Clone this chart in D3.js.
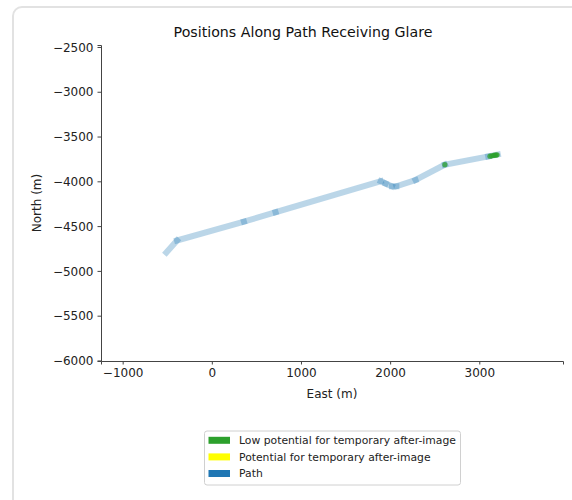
<!DOCTYPE html>
<html><head><meta charset="utf-8">
<script src="https://cdn.jsdelivr.net/npm/d3@7"></script>
<style>body{margin:0;background:#fff;font-family:"DejaVu Sans",sans-serif;}</style>
</head><body>
<svg id="c" width="572" height="500"></svg>
<script>
const pathEast = [-510, -390, 360, 715, 1895, 1950, 2020, 2070, 2285, 2614, 3100, 3208];
const pathNorth = [-4795, -4660, -4450, -4345, -4000, -4025, -4055, -4055, -3985, -3814, -3722, -3700];
const glareEast = [2614, 3120, 3140, 3160, 3175, 3188, 3200];
const glareNorth = [-3814, -3719, -3715, -3711, -3708, -3706, -3704];
const xTicks = [-1000, 0, 1000, 2000, 3000];
const yTicks = [-2500, -3000, -3500, -4000, -4500, -5000, -5500, -6000];
const legendLabels = ["Low potential for temporary after-image", "Potential for temporary after-image", "Path"];
const legendColors = ["#2ca02c", "#ffff00", "#1f77b4"];

const svg = d3.select("#c");
// card
svg.append("rect").attr("x", 13).attr("y", 7).attr("width", 620).attr("height", 560)
  .attr("rx", 9).attr("fill", "#fff").attr("stroke", "#e2e2e2").attr("stroke-width", 2);

const L = 101, R = 563, T = 45, B = 361;
const x = d3.scaleLinear().domain([-1243, 3939]).range([L, R]);
const y = d3.scaleLinear().domain([-6006, -2478]).range([B, T]);
const fmt = d => d < 0 ? "\u2212" + Math.abs(d) : String(d);

const gx = svg.append("g").attr("transform", `translate(0,${B})`)
  .call(d3.axisBottom(x).tickValues(xTicks).tickFormat(fmt).tickSize(3.5).tickPadding(4));
const gy = svg.append("g").attr("transform", `translate(${L},0)`)
  .call(d3.axisLeft(y).tickValues(yTicks).tickFormat(fmt).tickSize(3.5).tickPadding(4));
[gx, gy].forEach(g => {
  g.selectAll("text").attr("font-family", "DejaVu Sans").attr("font-size", 12).attr("fill", "#222");
  g.selectAll("line").attr("stroke", "#444");
  g.select(".domain").attr("stroke", "#444");
});
gy.selectAll("text").attr("dy", "0.35em");

// path segments
const plot = svg.append("g");
for (let i = 0; i < pathEast.length - 1; i++) {
  plot.append("line")
    .attr("x1", x(pathEast[i])).attr("y1", y(pathNorth[i]))
    .attr("x2", x(pathEast[i + 1])).attr("y2", y(pathNorth[i + 1]))
    .attr("stroke", "#1f77b4").attr("stroke-opacity", 0.3).attr("stroke-width", 6)
    .attr("stroke-linecap", "square");
}
plot.selectAll("circle.g").data(glareEast).join("circle")
  .attr("cx", d => x(d)).attr("cy", (d, i) => y(glareNorth[i]))
  .attr("r", 2.6).attr("fill", "#2ca02c").attr("fill-opacity", 0.75);

// title & labels
svg.append("text").attr("x", 303).attr("y", 37).attr("text-anchor", "middle")
  .attr("font-size", 14.2).attr("fill", "#111").text("Positions Along Path Receiving Glare");
svg.append("text").attr("x", 332).attr("y", 398).attr("text-anchor", "middle")
  .attr("font-size", 12).attr("fill", "#222").text("East (m)");
svg.append("text").attr("transform", "translate(41,203) rotate(-90)").attr("text-anchor", "middle")
  .attr("font-size", 12).attr("fill", "#222").text("North (m)");

// legend
const lg = svg.append("g");
lg.append("rect").attr("x", 204.5).attr("y", 431).attr("width", 256).attr("height", 54)
  .attr("rx", 2.5).attr("fill", "#fff").attr("stroke", "#d0d0d0").attr("stroke-width", 1);
legendLabels.forEach((lab, i) => {
  const cy = 440.3 + i * 16.6;
  lg.append("rect").attr("x", 208.5).attr("y", cy - 3.5).attr("width", 21.5).attr("height", 7)
    .attr("fill", legendColors[i]);
  lg.append("text").attr("x", 239).attr("y", cy + 3.9).attr("font-size", 10.8)
    .attr("fill", "#222").text(lab);
});
</script>
</body></html>
